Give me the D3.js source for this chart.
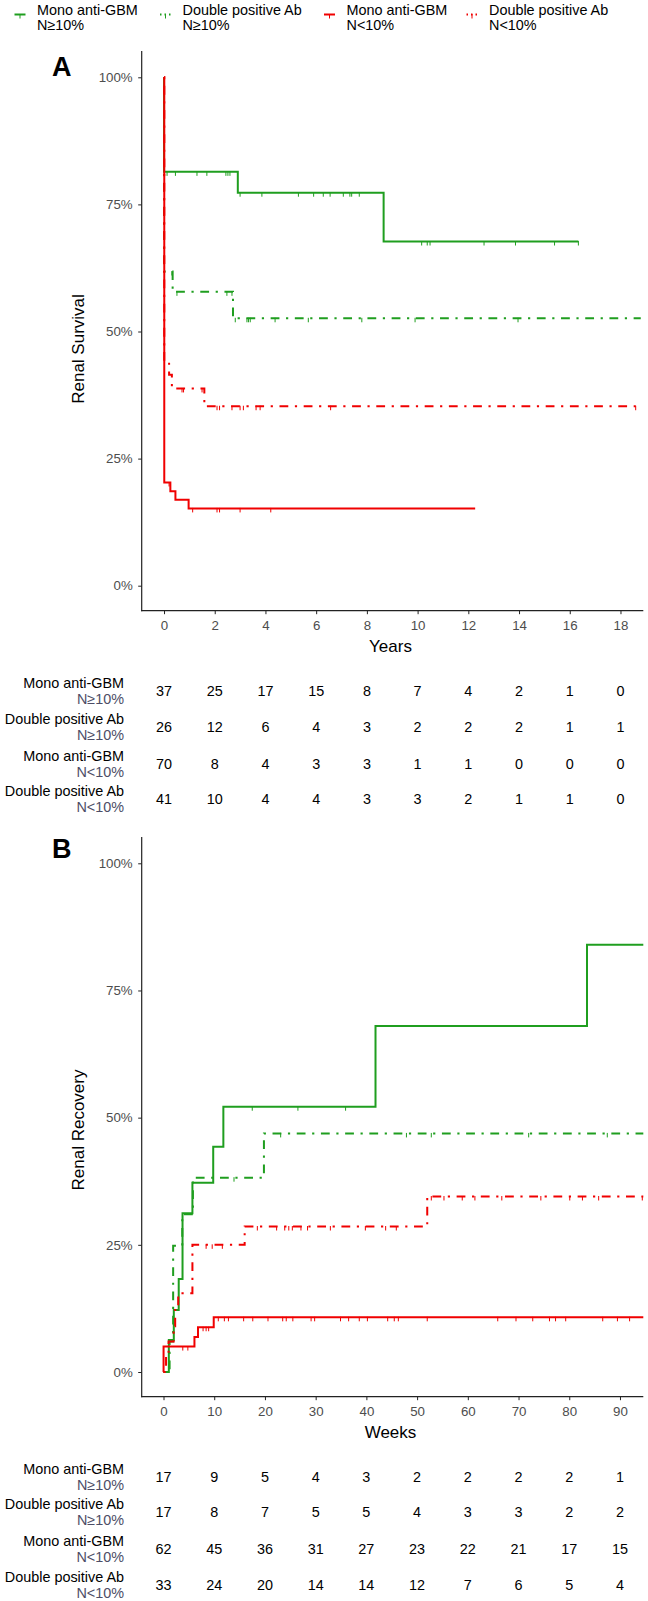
<!DOCTYPE html>
<html><head><meta charset="utf-8">
<script src="https://cdn.jsdelivr.net/npm/d3@7"></script>
<style>
html,body{margin:0;padding:0;background:#fff;}
svg{display:block;font-family:"Liberation Sans",Arial,sans-serif;}
</style></head>
<body>
<svg id="chart" width="648" height="1601"></svg>
<script>
// ---------------- DATA ----------------
const groupNames = ["Mono anti-GBM", "Double positive Ab", "Mono anti-GBM", "Double positive Ab"];
const groupSub = ["N≥10%", "N≥10%", "N<10%", "N<10%"];
const groupColors = ["#1f9e1f", "#1f9e1f", "#f00000", "#f00000"];
const groupDashed = [false, true, false, true];

// Panel A: renal survival (years)
const A_ticks = [0, 2, 4, 6, 8, 10, 12, 14, 16, 18];
const A_yticks = [0, 0.25, 0.5, 0.75, 1];
const A_monoHi_t = [0, 0, 2.91, 8.66];
const A_monoHi_s = [1, 0.814, 0.773, 0.677];
const A_monoHi_end = 16.34;
const A_monoHi_cens = [0.12, 0.45, 1.3, 1.69, 2.44, 2.52, 2.6, 3.0, 3.86, 5.3, 5.9, 6.28, 6.55, 7.07, 7.33, 7.4, 7.7, 10.16, 10.38, 10.49, 12.62, 13.86, 15.4, 16.34];
const A_dblHi_t = [0, 0, 0.34, 2.72];
const A_dblHi_s = [1, 0.618, 0.578, 0.526];
const A_dblHi_end = 18.8;
const A_dblHi_cens = [0.31, 0.51, 2.48, 2.68, 2.81, 3.27, 3.33, 3.4, 4.38, 5.69, 7.8, 9.9, 13.96];
const A_monoLo_t = [0, 0.01, 0.25, 0.45, 0.97];
const A_monoLo_s = [1, 0.203, 0.186, 0.169, 0.152];
const A_monoLo_end = 12.27;
const A_monoLo_cens = [0.2, 1.13, 2.09, 2.19, 3.0, 4.21];
const A_dblLo_t = [0, 0.01, 0.2, 0.31, 1.59];
const A_dblLo_s = [1, 0.44, 0.415, 0.388, 0.353];
const A_dblLo_end = 18.6;
const A_dblLo_cens = [0.71, 0.77, 1.5, 2.09, 2.19, 2.68, 3.0, 3.13, 3.63, 3.79, 6.57, 18.6];
const A_risk = [
  [37, 25, 17, 15, 8, 7, 4, 2, 1, 0],
  [26, 12, 6, 4, 3, 2, 2, 2, 1, 1],
  [70, 8, 4, 3, 3, 1, 1, 0, 0, 0],
  [41, 10, 4, 4, 3, 3, 2, 1, 1, 0]
];

// Panel B: renal recovery (weeks)
const B_ticks = [0, 10, 20, 30, 40, 50, 60, 70, 80, 90];
const B_yticks = [0, 0.25, 0.5, 0.75, 1];
const B_monoHi_t = [0, 1.05, 2.03, 3.0, 3.75, 5.7, 9.8, 11.8, 41.8, 83.5];
const B_monoHi_s = [0, 0.063, 0.122, 0.183, 0.312, 0.372, 0.443, 0.5215, 0.68, 0.84];
const B_monoHi_end = 94.6;
const B_monoHi_cens = [17.5, 26.5, 35.9];
const B_dblHi_t = [0, 1.2, 1.9, 3.7, 5.8, 19.8];
const B_dblHi_s = [0, 0.06, 0.248, 0.31, 0.382, 0.469];
const B_dblHi_end = 94.6;
const B_dblHi_cens = [13.9, 23.1, 47.9, 52.8, 72, 87.5];
const B_monoLo_t = [0, 0.01, 6.1, 6.8, 9.9];
const B_monoLo_s = [0, 0.05, 0.069, 0.088, 0.1075];
const B_monoLo_end = 94.6;
const B_monoLo_cens = [3.8, 4.8, 7.8, 8.4, 8.9, 10.8, 12.0, 12.8, 15.8, 17.6, 20.6, 23.5, 24.2, 25.5, 29.1, 29.8, 34.9, 36.5, 38.6, 40.2, 44.2, 45.5, 46.3, 52.0, 65.9, 69.5, 72.8, 76.1, 77.3, 79.3, 86.6, 89.5, 91.9];
const B_dblLo_t = [0, 0.5, 1.0, 2.0, 2.3, 2.9, 5.7, 16, 52];
const B_dblLo_s = [0, 0.03, 0.06, 0.09, 0.122, 0.155, 0.25, 0.286, 0.345];
const B_dblLo_end = 94.6;
const B_dblLo_cens = [8.4, 9.6, 11.6, 18.5, 22.3, 23.9, 24.7, 25.4, 27.1, 28.4, 32.9, 39.8, 43.8, 45.9, 52.8, 55.3, 58.9, 61.4, 66.7, 74.4, 80.1, 82.6, 85.8, 94.4];
const B_risk = [
  [17, 9, 5, 4, 3, 2, 2, 2, 2, 1],
  [17, 8, 7, 5, 5, 4, 3, 3, 2, 2],
  [62, 45, 36, 31, 27, 23, 22, 21, 17, 15],
  [33, 24, 20, 14, 14, 12, 7, 6, 5, 4]
];

// ---------------- DRAW ----------------
const svg = d3.select("#chart");
const axisColor = "#222";
const tickTextColor = "#4d4d4d";
const dash = "2.2,6.6,8.8,6.6";
const FS = 14.4;

function panel(cfg) {
  const x = d3.scaleLinear().domain(cfg.xdom).range([141.7, 643.3]);
  const y = d3.scaleLinear().domain([0, 1]).range([cfg.y0, cfg.y1]);
  const g = svg.append("g");
  g.append("text").attr("x", 52).attr("y", cfg.letterY).attr("font-size", 27).attr("font-weight", "bold").text(cfg.letter);
  const yAxis = d3.axisLeft(y).tickValues(cfg.yticks).tickFormat(d3.format(".0%")).tickSize(3.5).tickPadding(5.5);
  const ya = g.append("g").attr("transform", "translate(141.7,0)").call(yAxis);
  const xAxis = d3.axisBottom(x).tickValues(cfg.xticks).tickSize(3.5).tickPadding(6.5);
  const xa = g.append("g").attr("transform", `translate(0,${cfg.xAxisY})`).call(xAxis);
  [ya, xa].forEach(a => {
    a.select(".domain").remove();
    a.selectAll(".tick line").attr("stroke", axisColor).attr("stroke-width", 1);
    a.selectAll(".tick text").attr("fill", tickTextColor).attr("font-size", 13.3).attr("font-family", "Liberation Sans, Arial, sans-serif");
  });
  g.append("line").attr("x1", 141.7).attr("x2", 141.7).attr("y1", cfg.topY).attr("y2", cfg.xAxisY + 0.5).attr("stroke", axisColor).attr("stroke-width", 1.2);
  g.append("line").attr("x1", 141.2).attr("x2", 643.3).attr("y1", cfg.xAxisY).attr("y2", cfg.xAxisY).attr("stroke", axisColor).attr("stroke-width", 1.2);
  g.append("text").attr("x", 390.5).attr("y", cfg.xAxisY + 41.3).attr("text-anchor", "middle").attr("font-size", 17).text(cfg.xtitle);
  g.append("text").attr("transform", `translate(84,${cfg.ytitleY}) rotate(-90)`).attr("text-anchor", "middle").attr("font-size", 17).text(cfg.ytitle);

  const line = d3.line().x(d => x(d[0])).y(d => y(d[1])).curve(d3.curveStepAfter);
  cfg.curves.forEach((c, i) => {
    const pts = c.t.map((t, k) => [t, c.s[k]]);
    pts.push([c.end, c.s[c.s.length - 1]]);
    g.append("path").datum(pts).attr("d", line).attr("fill", "none")
      .attr("stroke", groupColors[i]).attr("stroke-width", 2)
      .attr("stroke-dasharray", groupDashed[i] ? dash : null);
    const stepVal = tt => { let v = c.s[0]; c.t.forEach((t, k) => { if (t <= tt) v = c.s[k]; }); return v; };
    g.append("g").selectAll("line").data(c.cens).join("line")
      .attr("x1", d => x(d)).attr("x2", d => x(d))
      .attr("y1", d => y(stepVal(d)) - 0.5).attr("y2", d => y(stepVal(d)) + 4)
      .attr("stroke", groupColors[i]).attr("stroke-width", 1);
  });

  const rowY = cfg.riskRows;
  cfg.risk.forEach((row, r) => {
    g.append("text").attr("x", 124).attr("y", rowY[r] - 3).attr("text-anchor", "end").attr("font-size", FS).attr("fill", "#000").text(groupNames[r]);
    g.append("text").attr("x", 124).attr("y", rowY[r] + 13).attr("text-anchor", "end").attr("font-size", FS).attr("fill", "#4d4d66").text(groupSub[r]);
    g.append("g").selectAll("text").data(row).join("text")
      .attr("x", (d, k) => x(cfg.xticks[k])).attr("y", rowY[r] + 5)
      .attr("text-anchor", "middle").attr("font-size", FS).attr("fill", "#000").text(d => d);
  });
}

panel({
  letter: "A", letterY: 75.5, xdom: [-0.88, 18.9], y0: 585.7, y1: 77.3, topY: 51, xAxisY: 610.7,
  xticks: A_ticks, yticks: A_yticks, xtitle: "Years", ytitle: "Renal Survival", ytitleY: 349,
  curves: [
    {t: A_monoHi_t, s: A_monoHi_s, end: A_monoHi_end, cens: A_monoHi_cens},
    {t: A_dblHi_t, s: A_dblHi_s, end: A_dblHi_end, cens: A_dblHi_cens},
    {t: A_monoLo_t, s: A_monoLo_s, end: A_monoLo_end, cens: A_monoLo_cens},
    {t: A_dblLo_t, s: A_dblLo_s, end: A_dblLo_end, cens: A_dblLo_cens}
  ],
  risk: A_risk, riskRows: [691, 727, 764, 799]
});
panel({
  letter: "B", letterY: 858, xdom: [-4.3, 94.6], y0: 1372, y1: 863.3, topY: 837, xAxisY: 1396.7,
  xticks: B_ticks, yticks: B_yticks, xtitle: "Weeks", ytitle: "Renal Recovery", ytitleY: 1130,
  curves: [
    {t: B_monoHi_t, s: B_monoHi_s, end: B_monoHi_end, cens: B_monoHi_cens},
    {t: B_dblHi_t, s: B_dblHi_s, end: B_dblHi_end, cens: B_dblHi_cens},
    {t: B_monoLo_t, s: B_monoLo_s, end: B_monoLo_end, cens: B_monoLo_cens},
    {t: B_dblLo_t, s: B_dblLo_s, end: B_dblLo_end, cens: B_dblLo_cens}
  ],
  risk: B_risk, riskRows: [1477, 1512, 1549, 1585]
});

// legend
const legC = [20, 165.5, 329.5, 472];
const lg = svg.append("g");
legC.forEach((cx, i) => {
  lg.append("line").attr("x1", cx - 5.5).attr("x2", cx + 5.5).attr("y1", 14.5).attr("y2", 14.5)
    .attr("stroke", groupColors[i]).attr("stroke-width", 2).attr("stroke-dasharray", groupDashed[i] ? "1.5,3,1.5,3" : null);
  lg.append("line").attr("x1", cx).attr("x2", cx).attr("y1", 14).attr("y2", 18.5)
    .attr("stroke", groupColors[i]).attr("stroke-width", 1);
  lg.append("text").attr("x", cx + 17).attr("y", 15).attr("font-size", FS).text(groupNames[i]);
  lg.append("text").attr("x", cx + 17).attr("y", 30).attr("font-size", FS).text(groupSub[i]);
});
</script>
</body></html>
